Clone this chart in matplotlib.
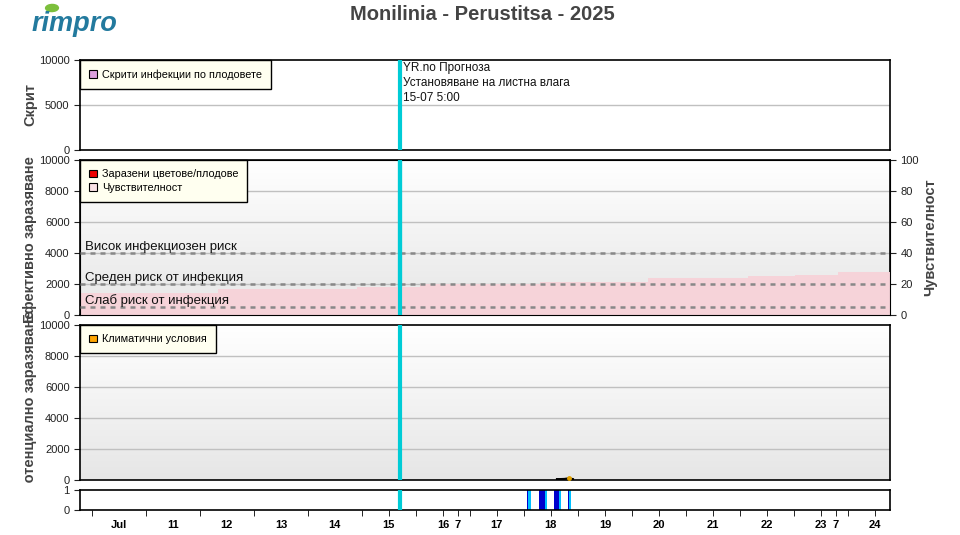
import numpy as np
import matplotlib
matplotlib.use('Agg')
import matplotlib.pyplot as plt
from matplotlib.patches import Patch, Ellipse
from matplotlib.colors import LinearSegmentedColormap
from matplotlib.transforms import Bbox, TransformedBbox

plt.rcParams['font.family'] = ['Liberation Sans', 'DejaVu Sans']

# Data (x axis in "day of July", 10.0 = 10 Jul 00:00)
x_start, x_end = 9.78, 24.78
day_labels = ['Jul', '11', '12', '13', '14', '15', '16', '17', '18', '19', '20', '21', '22', '23', '24']
extra_labels = ['7', '7']
extra_pos = [16.78, 23.78]
now_x = 15 + 17 / 24

# sensitivity (right axis, %), step profile
sens_x = [9.78, 12.33, 14.91, 16.07, 18.30, 20.30, 22.15, 23.02, 23.81, 24.78]
sens_v = [14.4, 16.6, 18.3, 19.8, 21.4, 23.7, 25.4, 26.0, 27.5, 27.5]

# risk thresholds (right axis units)
risk_levels = [40, 20, 5]
risk_names = ['Висок инфекциозен риск', 'Среден риск от инфекция', 'Слаб риск от инфекция']

# climate conditions, 18 Jul (hours, value)
clim_h = [14.7, 16.0, 18.0, 20.0, 21.8]
clim_v = [60, 60, 70, 110, 60]

# leaf wetness / rain on 18 Jul (start hour, length in hours)
wet_start = [1.33, 6.67, 13.3, 19.6]
wet_len = [0.58, 2.66, 2.3, 0.4]
rain_start = [1.91, 9.33, 15.6, 20.0]
rain_len = [1.2, 0.87, 0.8, 0.9]

fig = plt.figure(figsize=(9.6, 5.35), dpi=100)
W, H = 960, 535


def add_ax(top, bottom):
    return fig.add_axes([80 / W, 1 - bottom / H, 810 / W, (bottom - top) / H])


ax1 = add_ax(60, 150)
ax2 = add_ax(160, 315)
ax3 = add_ax(325, 480)
ax4 = add_ax(490, 510)

grad = LinearSegmentedColormap.from_list('bg', ['#ffffff', '#e6e6e6'])
for ax in (ax2, ax3):
    ax.imshow(np.linspace(0, 1, 200).reshape(-1, 1), cmap=grad, aspect='auto',
              extent=[x_start, x_end, 0, 10000], zorder=0)

for ax in (ax1, ax2, ax3, ax4):
    ax.set_xlim(x_start, x_end)
    for s in ax.spines.values():
        s.set_linewidth(1.2)
    ax.tick_params(axis='y', labelsize=8, length=4, colors='#222222')
    ax.tick_params(axis='x', bottom=False, labelbottom=False)
    ax.axvline(now_x, color='#00ccd6', lw=3, zorder=6)

ax1.set_ylim(0, 10000)
ax1.set_yticks([0, 5000, 10000])
ax1.axhline(5000, color='#c0c0c0', lw=1, zorder=1)

for ax in (ax2, ax3):
    ax.set_ylim(0, 10000)
    ax.set_yticks(range(0, 10001, 2000))
    for y in range(2000, 10000, 2000):
        ax.axhline(y, color='#c0c0c0', lw=1, zorder=1)

ax4.set_ylim(0, 1)
ax4.set_yticks([0, 1])

# panel 2: sensitivity on right axis
ax2r = ax2.twinx()
ax2r.set_ylim(0, 100)
ax2r.set_yticks(range(0, 101, 20))
ax2r.tick_params(axis='y', labelsize=8, length=4, colors='#222222')
ax2r.fill_between(sens_x, 0, sens_v, step='post', color='#f6d3d9', lw=0, zorder=2)
for lvl, name in zip(risk_levels, risk_names):
    ax2r.axhline(lvl, color='#888888', lw=1.8, ls=(0, (2, 2)), zorder=3)
    ax2r.text(9.87, lvl + 2.2, name, fontsize=9.5, color='#111111', va='baseline', zorder=4)
ax2r.axvline(now_x, color='#00ccd6', lw=3, zorder=6)

# panel 3: climate
ax3.plot([18 + h / 24 for h in clim_h], clim_v, color='black', lw=1.5, zorder=3)
ax3.plot(18 + clim_h[3] / 24, clim_v[3], 'o', color='#e0a000', ms=2.5, zorder=4)

# panel 4: wetness and rain
ax4.bar([18 + h / 24 for h in wet_start], 1, width=[l / 24 for l in wet_len],
        align='edge', color='#0000cc', lw=0)
ax4.bar([18 + h / 24 for h in rain_start], 1, width=[l / 24 for l in rain_len],
        align='edge', color='#00bfff', lw=0)

ax4.xaxis.remove_overlapping_locs = False
ax4.set_xticks([d + 0.5 for d in range(10, 25)] + extra_pos)
ax4.set_xticklabels(day_labels + extra_labels, fontsize=8, fontweight='bold')
ax4.set_xticks(list(range(10, 25)) + [d + 0.5 for d in range(15, 25)] + extra_pos, minor=True)
ax4.tick_params(axis='x', which='major', bottom=True, labelbottom=True, length=0, pad=7)
ax4.tick_params(axis='x', which='minor', bottom=True, length=4)


def legend(ax, items):
    handles = [Patch(facecolor=c, edgecolor='black', lw=0.8, label=l) for l, c in items]
    lg = ax.legend(handles=handles, loc='upper left', bbox_to_anchor=(0, 1), borderaxespad=0,
                   fancybox=False, edgecolor='black', facecolor='#fffff0', framealpha=1,
                   fontsize=7.8, handlelength=0.7, handleheight=0.7, handletextpad=0.45,
                   borderpad=0.85, labelspacing=0.35)
    lg.get_frame().set_linewidth(1)
    lg.set_zorder(10)


legend(ax1, [('Скрити инфекции по плодовете', '#dda0dd')])
legend(ax2r, [('Заразени цветове/плодове', '#ee0000'), ('Чувствителност', '#fbe3e6')])
legend(ax3, [('Климатични условия', '#ffa500')])

ax1.text(now_x + 0.06, 0.975, 'YR.no Прогноза\nУстановяване на листна влага\n15-07 5:00',
         transform=ax1.get_xaxis_transform(), fontsize=8.5, va='top', ha='left',
         linespacing=1.3, color='#111111')

# titles and axis labels
fig.text(482 / W, 1 - 14 / H, 'Monilinia - Perustitsa - 2025', ha='center', va='center',
         fontsize=14.5, fontweight='bold', color='#444444')
lab = dict(rotation=90, ha='center', va='center', fontsize=10.5, fontweight='bold', color='#444444')
fig.text(30 / W, 1 - 105 / H, 'Скрит', **lab)
fig.text(30 / W, 1 - 240 / H, 'Ефективно заразяване', **lab)
t3 = fig.text(30 / W, 1 - 402 / H, 'Потенциално заразяване', **lab)
t3.set_clip_box(TransformedBbox(Bbox([[0, 1 - 483 / H], [1, 1]]), fig.transFigure))
t3.set_clip_on(True)
fig.text(930 / W, 1 - 237 / H, 'Чувствителност', **lab)

# logo
fig.text(32 / W, 1 - 24 / H, 'rimpro', fontsize=19.5, fontweight='bold', style='italic',
         color='#237a9e', va='center', ha='left')
fig.patches.append(Ellipse((52 / W, 1 - 8 / H), 13 / W, 7 / H, angle=40,
                           transform=fig.transFigure, color='#7cbf3c'))

fig.savefig('out.png', dpi=100)
